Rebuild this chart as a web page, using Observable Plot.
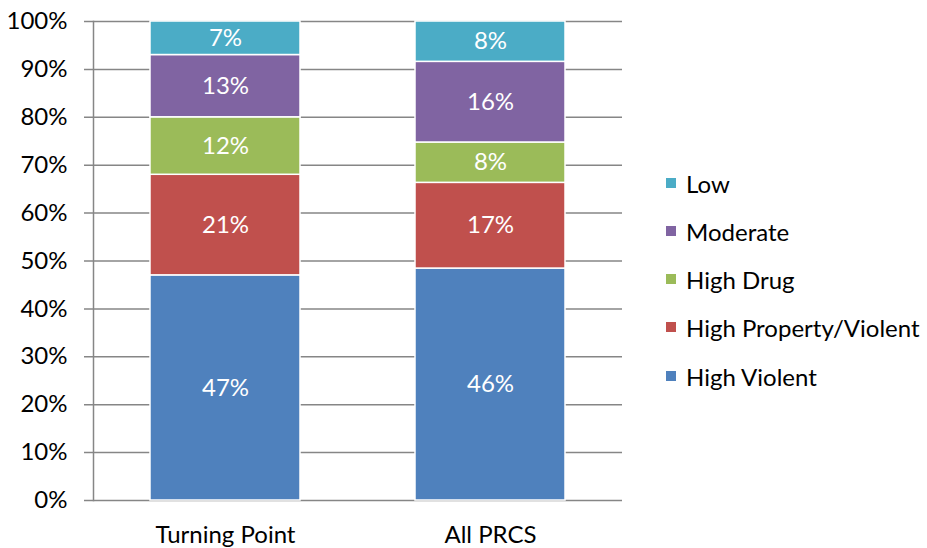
<!DOCTYPE html>
<html><head><meta charset="utf-8">
<script src="https://cdn.jsdelivr.net/npm/d3@7"></script>
<script src="https://cdn.jsdelivr.net/npm/@observablehq/plot@0.6"></script>
<style>
body{margin:0;background:#fff;font-family:Lato,"Open Sans",sans-serif;}
#wrap{position:relative;width:927px;height:548px;}
#legend{position:absolute;left:666px;top:0;font-size:24px;color:#000;}
.item{position:absolute;left:0;white-space:nowrap;display:flex;align-items:center;height:30px;}
.sw{width:10px;height:10px;margin-right:10px;}
</style></head>
<body><div id="wrap"><div id="legend"></div></div>
<script>
const categories = ["Turning Point", "All PRCS"];
const series = ["High Violent", "High Property/Violent", "High Drug", "Moderate", "Low"];
const colors = ["#4F81BD", "#C0504D", "#9BBB59", "#8064A2", "#4BACC6"];
const turningPoint = [47, 21, 12, 13, 7];
const allPRCS = [46, 17, 8, 16, 8];
const yTicks = [0, 0.1, 0.2, 0.3, 0.4, 0.5, 0.6, 0.7, 0.8, 0.9, 1];

const values = [turningPoint, allPRCS];
const data = [];
categories.forEach((c, i) => series.forEach((s, j) => data.push({cat: c, series: s, value: values[i][j]})));

const stackOpts = {x: "cat", y: "value", z: "series", order: series, offset: "normalize"};

const chart = Plot.plot({
  width: 927, height: 548,
  marginLeft: 93, marginRight: 305, marginTop: 21, marginBottom: 48,
  style: {fontFamily: "Lato, 'Open Sans', sans-serif", fontSize: "24px", color: "#000", background: "#fff"},
  x: {domain: categories, paddingInner: 0.434, paddingOuter: 0.215, label: null},
  y: {domain: [0, 1], label: null},
  color: {domain: series, range: colors},
  marks: [
    Plot.gridY(yTicks, {stroke: "#868686", strokeOpacity: 1, strokeWidth: 1.5, insetLeft: -9}),
    Plot.axisY(yTicks, {tickFormat: d => Math.round(d * 100) + "%", tickSize: 0, tickPadding: 26, fill: "#000", fontSize: 24}),
    Plot.frame({anchor: "left", stroke: "#868686", strokeWidth: 1.5}),
    Plot.axisX({tickSize: 0, tickPadding: 25, fontSize: 24, fill: "#000"}),
    Plot.barY(data, Plot.stackY({...stackOpts, fill: "series", stroke: "#fff", strokeWidth: 1.5})),
    Plot.text(data, Plot.stackY({...stackOpts, text: d => d.value + "%", fill: "#fff", fontSize: 24}))
  ]
});
document.getElementById("wrap").prepend(chart);

const legend = document.getElementById("legend");
const rowY = [183, 231, 279, 327, 376];
[...series].reverse().forEach((s, k) => {
  const item = document.createElement("div");
  item.className = "item";
  item.style.top = (rowY[k] - 15) + "px";
  const sw = document.createElement("div");
  sw.className = "sw";
  sw.style.background = colors[series.indexOf(s)];
  const t = document.createElement("span");
  t.textContent = s;
  item.append(sw, t);
  legend.append(item);
});
</script></body></html>
